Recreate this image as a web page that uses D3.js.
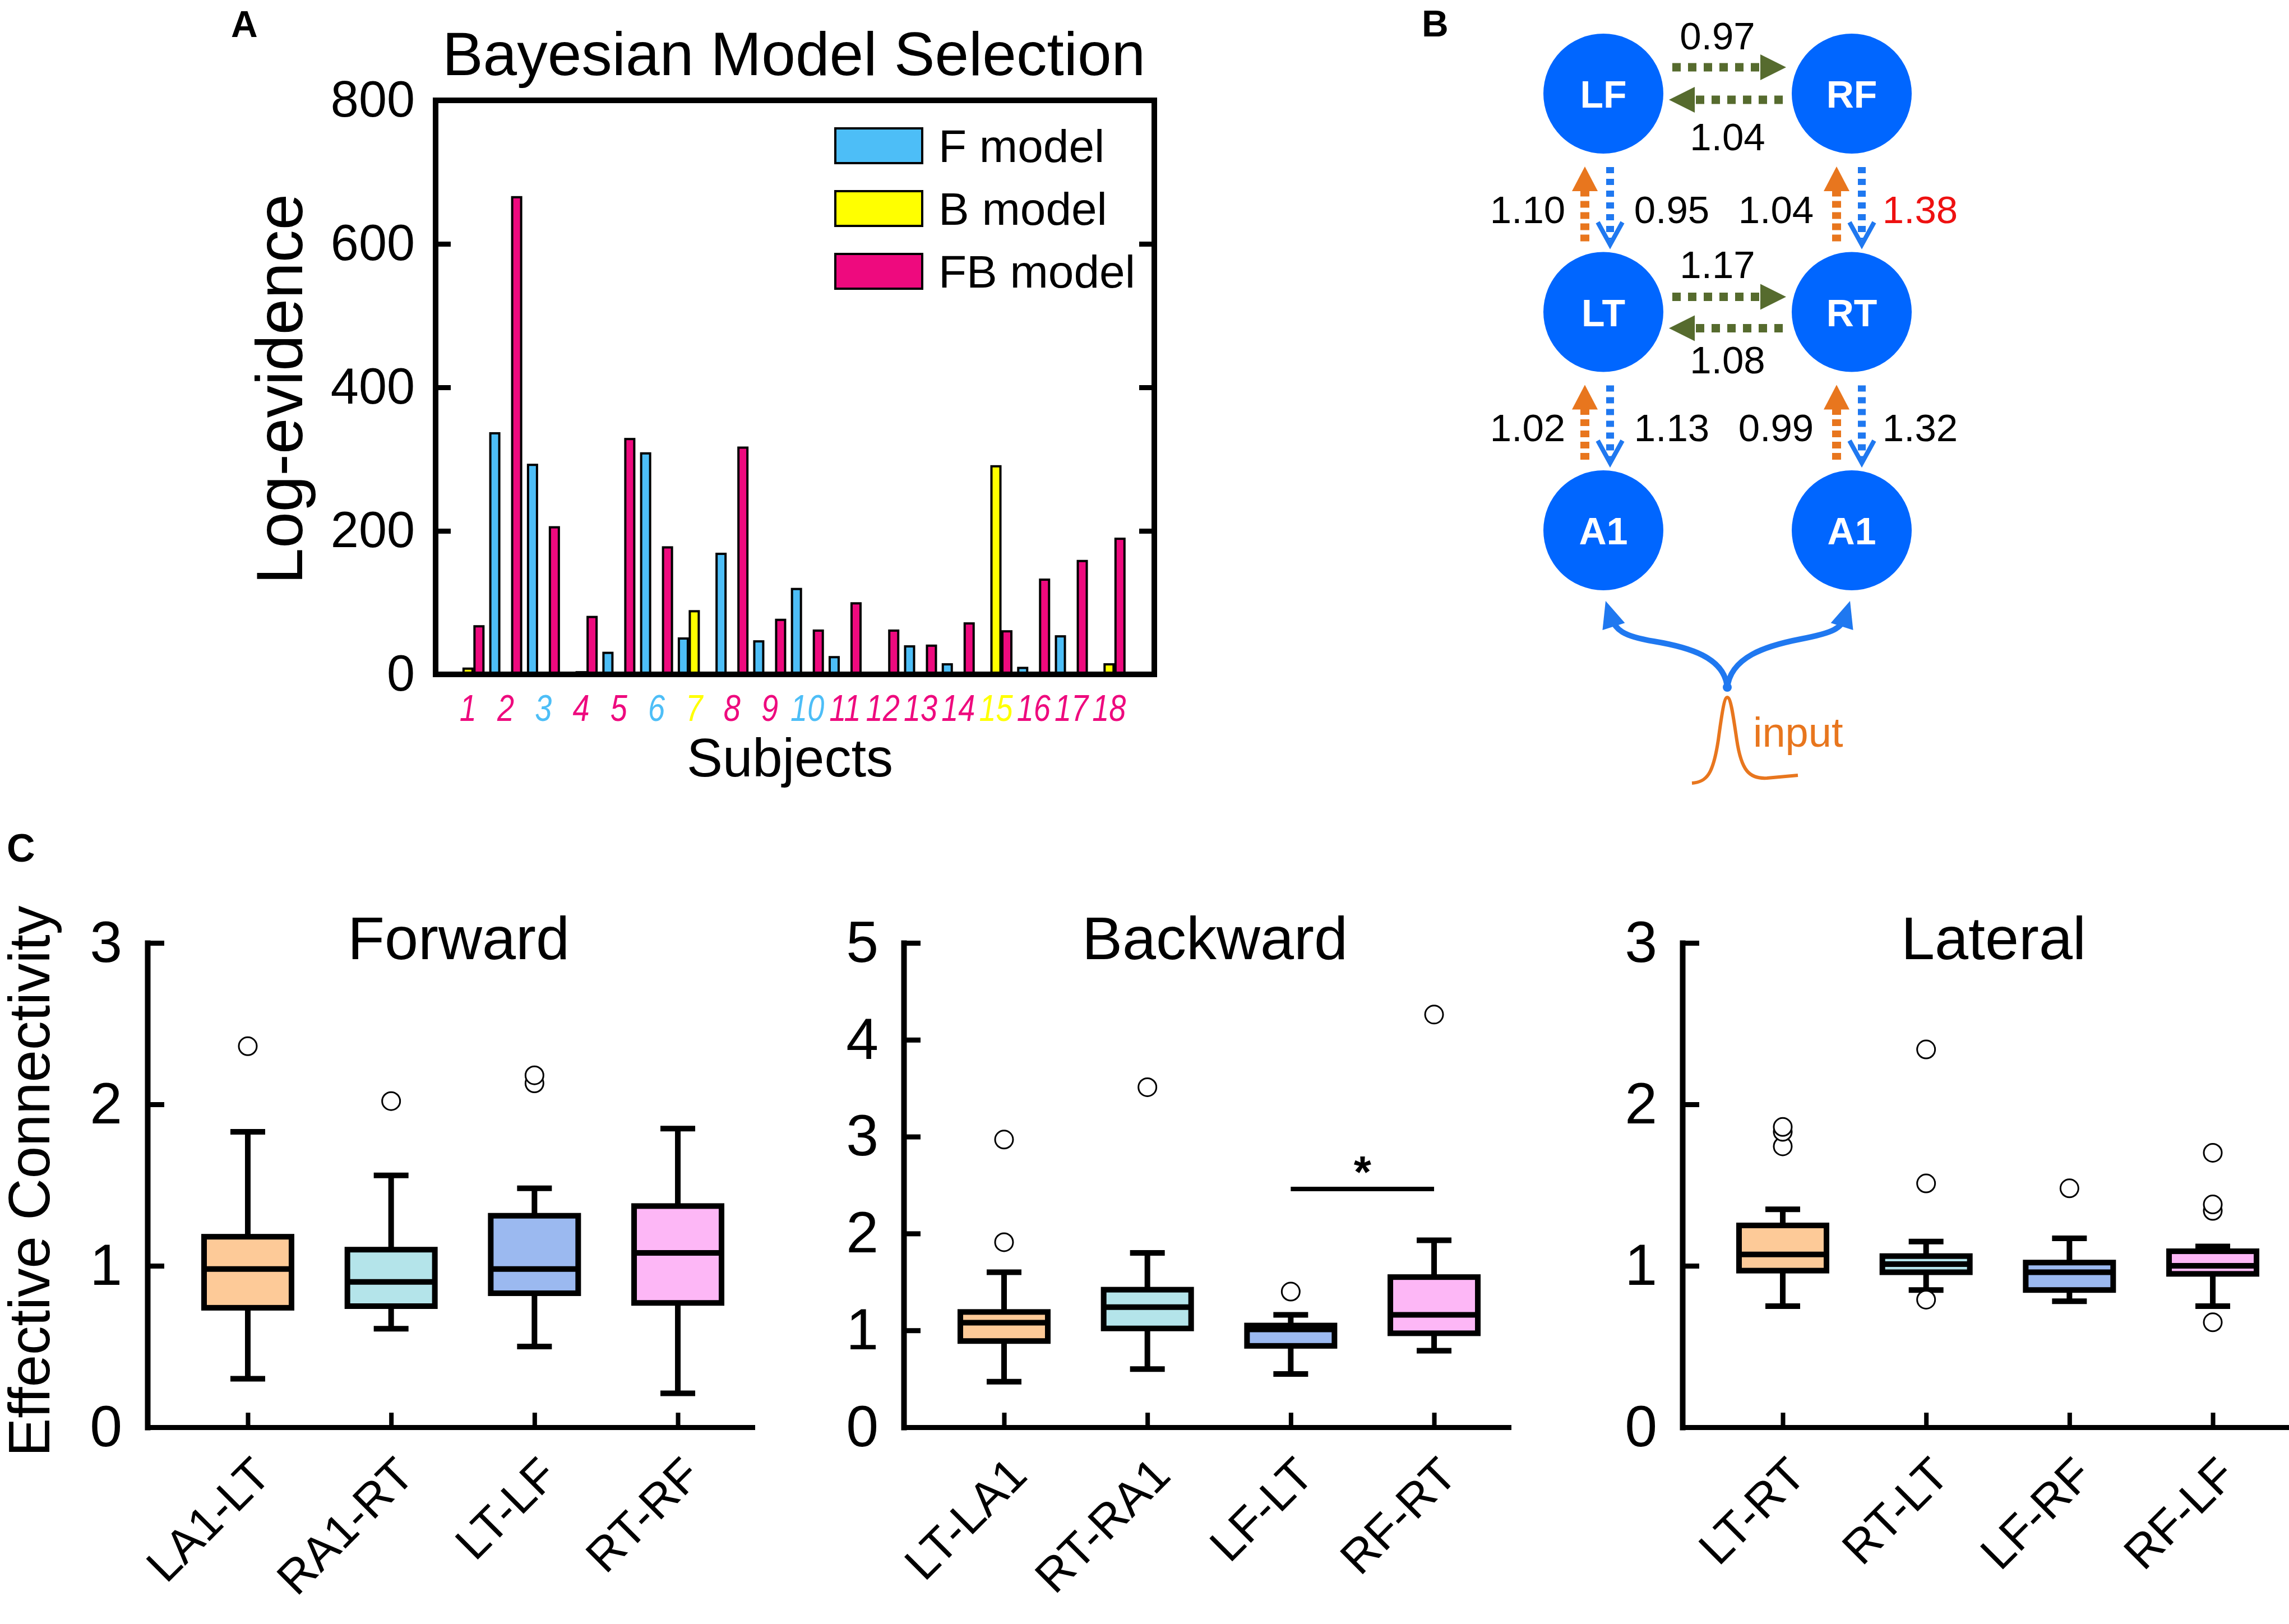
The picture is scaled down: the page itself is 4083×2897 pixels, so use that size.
<!DOCTYPE html>
<html>
<head>
<meta charset="utf-8">
<script src="https://cdn.jsdelivr.net/npm/d3@7"></script>
<style>
  body { margin: 0; background: #fff; }
  text { font-family: "Liberation Sans", Arial, sans-serif; }
</style>
</head>
<body>
<script>
'use strict';

// ---------- Panel A data: log-evidence per subject
const subjects = ['1','2','3','4','5','6','7','8','9','10','11','12','13','14','15','16','17','18'];
const fModel  = [0, 336, 292, 0, 30, 308, 50, 168, 46, 119, 24, 0, 39, 14, 0, 9, 53, 0];
const bModel  = [8, 0, 0, 3, 0, 0, 88, 0, 0, 0, 0, 0, 0, 0, 290, 0, 0, 14];
const fbModel = [67, 665, 205, 80, 328, 177, 0, 316, 76, 61, 99, 61, 40, 71, 60, 132, 158, 189];
const modelNames  = ['F model', 'B model', 'FB model'];
const modelColors = ['#4dbef7', '#ffff00', '#ee0a7e'];
const yTicksA = [0, 200, 400, 600, 800];

// ---------- Panel B data: DCM connection strengths
const nodes = [
  { name: 'LF', side: 'L', level: 'F' }, { name: 'RF', side: 'R', level: 'F' },
  { name: 'LT', side: 'L', level: 'T' }, { name: 'RT', side: 'R', level: 'T' },
  { name: 'A1', side: 'L', level: 'A' }, { name: 'A1', side: 'R', level: 'A' }
];
const lateralLevels = ['F', 'F', 'T', 'T'];
const lateralDirs   = ['LR', 'RL', 'LR', 'RL'];
const lateralValues = [0.97, 1.04, 1.17, 1.08];
const verticalSides  = ['L', 'L', 'R', 'R'];
const verticalGaps   = ['FT', 'TA', 'FT', 'TA'];
const forwardValues  = [1.10, 1.02, 1.04, 0.99];   // orange, upward
const backwardValues = [0.95, 1.13, 1.38, 1.32];   // blue, downward
const backwardSignif = [false, false, true, false];

// ---------- Panel C data: box statistics [low whisker, Q1, median, Q3, high whisker]
const forwardCats  = ['LA1-LT', 'RA1-RT', 'LT-LF', 'RT-RF'];
const forwardStats = [[0.30, 0.74, 0.98, 1.18, 1.83], [0.61, 0.75, 0.90, 1.10, 1.56],
                      [0.50, 0.83, 0.98, 1.31, 1.48], [0.21, 0.77, 1.08, 1.37, 1.85]];
const forwardOut   = [[2.36], [2.02], [2.13, 2.18], []];
const backwardCats  = ['LT-LA1', 'RT-RA1', 'LF-LT', 'RF-RT'];
const backwardStats = [[0.47, 0.89, 1.08, 1.19, 1.60], [0.60, 1.02, 1.24, 1.42, 1.80],
                       [0.55, 0.84, 1.01, 1.05, 1.16], [0.79, 0.97, 1.16, 1.55, 1.93]];
const backwardOut   = [[1.91, 2.97], [3.51], [1.40], [4.26]];
const lateralCats  = ['LT-RT', 'RT-LT', 'LF-RF', 'RF-LF'];
const lateralStats = [[0.75, 0.97, 1.07, 1.25, 1.35], [0.85, 0.96, 1.01, 1.06, 1.15],
                      [0.78, 0.85, 0.96, 1.02, 1.17], [0.75, 0.95, 1.00, 1.09, 1.12]];
const lateralOut   = [[1.74, 1.83, 1.86], [0.79, 1.51, 2.34], [1.48], [0.65, 1.34, 1.38, 1.70]];
const boxColors = ['#fdca98', '#b4e4ea', '#9bb9f0', '#fdb7f6'];
const ticks3 = [0, 1, 2, 3];
const ticks5 = [0, 1, 2, 3, 4, 5];
const sigPair = [3, 4];
const sigLevel = 2.46;

const W = 4083, H = 2897;
const svg = d3.select('body').append('svg')
  .attr('width', W).attr('height', H)
  .attr('viewBox', `0 0 ${W} ${H}`);
svg.append('rect').attr('width', W).attr('height', H).attr('fill', '#fff');

// =============== Panel A ===============
const A = { left: 777, right: 2059, top: 179, bottom: 1203 };
const xA = d3.scaleLinear().domain([0.14, 19.2]).range([A.left, A.right]);
const yA = d3.scaleLinear().domain([0, 800]).range([A.bottom, A.top]);
const gA = svg.append('g');

const series = [fModel, bModel, fbModel];
const offsets = [-19.5, 0, 19.5];
series.forEach((vals, k) => {
  gA.append('g').selectAll('rect')
    .data(vals.map((v, i) => ({ v, i })).filter(d => d.v > 0))
    .join('rect')
    .attr('x', d => xA(d.i + 1) + offsets[k] - 8)
    .attr('width', 16)
    .attr('y', d => yA(d.v))
    .attr('height', d => yA(0) - yA(d.v))
    .attr('fill', modelColors[k])
    .attr('stroke', '#000')
    .attr('stroke-width', 4);
});

gA.append('rect')
  .attr('x', A.left).attr('y', A.top)
  .attr('width', A.right - A.left).attr('height', A.bottom - A.top)
  .attr('fill', 'none').attr('stroke', '#000').attr('stroke-width', 10);

const axA = gA.append('g')
  .attr('transform', `translate(${A.left},0)`)
  .call(d3.axisLeft(yA).tickValues(yTicksA).tickSize(-27).tickSizeOuter(0).tickPadding(37));
axA.select('.domain').remove();
axA.selectAll('line').attr('stroke-width', 9);
axA.selectAll('text').attr('font-size', 90).attr('fill', '#000');

const axAR = gA.append('g')
  .attr('transform', `translate(${A.right},0)`)
  .call(d3.axisRight(yA).tickValues(yTicksA.slice(1, 4)).tickSize(-27).tickFormat(''));
axAR.select('.domain').remove();
axAR.selectAll('line').attr('stroke-width', 9);

// subject labels coloured by the winning model
gA.append('g').selectAll('text')
  .data(subjects)
  .join('text')
  .attr('transform', (d, i) => `translate(${xA(i + 1)},1286) scale(0.82,1)`)
  .attr('text-anchor', 'middle')
  .attr('font-size', 66)
  .attr('font-style', 'italic')
  .attr('fill', (d, i) => {
    const v = [fModel[i], bModel[i], fbModel[i]];
    return modelColors[v.indexOf(d3.max(v))];
  })
  .text(d => d);

gA.append('text').attr('x', 1409).attr('y', 1385)
  .attr('text-anchor', 'middle').attr('font-size', 96).text('Subjects');
gA.append('text').attr('transform', 'translate(539,694) rotate(-90)')
  .attr('text-anchor', 'middle').attr('font-size', 116).text('Log-evidence');
gA.append('text').attr('x', 1416).attr('y', 134)
  .attr('text-anchor', 'middle').attr('font-size', 109).text('Bayesian Model Selection');

const leg = gA.append('g').selectAll('g').data(modelNames).join('g')
  .attr('transform', (d, i) => `translate(1490,${229 + i * 112})`);
leg.append('rect').attr('width', 155).attr('height', 62)
  .attr('fill', (d, i) => modelColors[i]).attr('stroke', '#000').attr('stroke-width', 4);
leg.append('text').attr('x', 184).attr('y', 31 + 29)
  .attr('font-size', 82).text(d => d);

svg.append('text').attr('x', 412).attr('y', 66)
  .attr('font-size', 66).attr('font-weight', 'bold').text('A');

// =============== Panel B ===============
const gB = svg.append('g');
const colX = d3.scalePoint().domain(['L', 'R']).range([2860, 3303]);
const rowY = d3.scalePoint().domain(['F', 'T', 'A']).range([167, 946]);
const R = 107;
const nodeBlue = '#0066ff', orange = '#e8761e', arrowBlue = '#1f78f0', olive = '#566b2e';

function head(g, x, y, ux, uy, len, wid, color) {
  const nx = -uy, ny = ux;
  const bx = x - ux * len, by = y - uy * len;
  g.append('path')
    .attr('d', `M${x},${y}L${bx + nx * wid / 2},${by + ny * wid / 2}L${bx - nx * wid / 2},${by - ny * wid / 2}Z`)
    .attr('fill', color);
}
function chevron(g, x, y, ux, uy, len, wid, color) {
  const nx = -uy, ny = ux;
  const bx = x - ux * len, by = y - uy * len;
  g.append('path')
    .attr('d', `M${bx + nx * wid / 2},${by + ny * wid / 2}L${x},${y}L${bx - nx * wid / 2},${by - ny * wid / 2}`)
    .attr('fill', 'none').attr('stroke', color).attr('stroke-width', 8)
    .attr('stroke-linejoin', 'miter');
}
function dashed(g, x1, y1, x2, y2, color, w, dash) {
  g.append('line').attr('x1', x1).attr('y1', y1).attr('x2', x2).attr('y2', y2)
    .attr('stroke', color).attr('stroke-width', w).attr('stroke-dasharray', dash);
}

// lateral (olive) arrows
const latOffsets = { F: [-47, 11], T: [-27, 29] };
const latLabelY = { F: [88, 268], T: [496, 666] };
lateralValues.forEach((v, i) => {
  const lev = lateralLevels[i];
  const lx = colX('L') + R, rx = colX('R') - R;
  const upper = lateralDirs[i] === 'LR';
  const y = rowY(lev) + latOffsets[lev][upper ? 0 : 1];
  if (upper) {
    dashed(gB, lx + 16, y, rx - 52, y, olive, 15, '15,13');
    head(gB, rx - 10, y, 1, 0, 46, 46, olive);
  } else {
    dashed(gB, rx - 16, y, lx + 52, y, olive, 15, '15,13');
    head(gB, lx + 10, y, -1, 0, 46, 46, olive);
  }
  gB.append('text')
    .attr('x', (lx + rx) / 2 + (upper ? -18 : 0))
    .attr('y', latLabelY[lev][upper ? 0 : 1])
    .attr('text-anchor', 'middle').attr('font-size', 69)
    .text(v.toFixed(2));
});

// vertical arrows: orange forward (up), blue backward (down)
verticalSides.forEach((s, i) => {
  const cx = colX(s);
  const upperLev = verticalGaps[i] === 'FT' ? 'F' : 'T';
  const lowerLev = verticalGaps[i] === 'FT' ? 'T' : 'A';
  const top = rowY(upperLev) + R, bot = rowY(lowerLev) - R;
  const ox = cx + (s === 'L' ? -33 : -27), bx = cx + (s === 'L' ? 12 : 18);
  dashed(gB, ox, bot - 19, ox, top + 60, orange, 16, '12,8');
  head(gB, ox, top + 23, 0, -1, 44, 46, orange);
  dashed(gB, bx, top + 24, bx, bot - 22, arrowBlue, 14, '11,10');
  chevron(gB, bx, bot - 13, 0, 1, 40, 44, arrowBlue);
  const ly = (top + bot) / 2 + 36;
  gB.append('text').attr('x', cx - 135).attr('y', ly)
    .attr('text-anchor', 'middle').attr('font-size', 69)
    .text(forwardValues[i].toFixed(2));
  gB.append('text').attr('x', cx + 122).attr('y', ly)
    .attr('text-anchor', 'middle').attr('font-size', 69)
    .attr('fill', backwardSignif[i] ? '#ee1111' : '#000')
    .text(backwardValues[i].toFixed(2));
});

// nodes
const gn = gB.append('g').selectAll('g').data(nodes).join('g')
  .attr('transform', d => `translate(${colX(d.side)},${rowY(d.level)})`);
gn.append('circle').attr('r', R).attr('fill', nodeBlue);
gn.append('text').attr('y', 25).attr('text-anchor', 'middle')
  .attr('font-size', 68).attr('font-weight', 'bold').attr('fill', '#fff')
  .text(d => d.name);

// input fork
gB.append('path')
  .attr('d', 'M3081,1228 C3078,1172 3010,1154 2950,1144 S2884,1122 2874,1104')
  .attr('fill', 'none').attr('stroke', arrowBlue).attr('stroke-width', 10);
gB.append('path')
  .attr('d', 'M3081,1228 C3086,1172 3150,1152 3212,1140 S3282,1120 3290,1104')
  .attr('fill', 'none').attr('stroke', arrowBlue).attr('stroke-width', 10);
head(gB, 2864, 1072, -0.3, -0.95, 48, 42, arrowBlue);
head(gB, 3300, 1072, 0.3, -0.95, 48, 42, arrowBlue);
gB.append('circle').attr('cx', 3081).attr('cy', 1226).attr('r', 8).attr('fill', arrowBlue);

gB.append('path')
  .attr('d', 'M3018,1397 C3045,1395 3056,1380 3065,1320 C3072,1268 3076,1244 3081,1244 C3087,1244 3091,1272 3098,1320 C3106,1374 3120,1390 3152,1388 L3207,1383')
  .attr('fill', 'none').attr('stroke', orange).attr('stroke-width', 6);
gB.append('text').attr('x', 3127).attr('y', 1332)
  .attr('font-size', 74).attr('fill', orange).text('input');

svg.append('text').attr('x', 2536).attr('y', 65)
  .attr('font-size', 66).attr('font-weight', 'bold').text('B');

// =============== Panel C ===============
const C = { bottom: 2546, top: 1682, len: 1079 };
const panels = [
  { title: 'Forward',  left: 263,  cats: forwardCats,  stats: forwardStats,  out: forwardOut,  ticks: ticks3 },
  { title: 'Backward', left: 1612, cats: backwardCats, stats: backwardStats, out: backwardOut, ticks: ticks5 },
  { title: 'Lateral',  left: 3001, cats: lateralCats,  stats: lateralStats,  out: lateralOut,  ticks: ticks3 }
];

panels.forEach((p, pi) => {
  const g = svg.append('g');
  const x = d3.scaleLinear().domain([0.3, 4.52]).range([p.left, p.left + C.len]);
  const y = d3.scaleLinear().domain([0, d3.max(p.ticks)]).range([C.bottom, C.top]);

  const ay = g.append('g').attr('transform', `translate(${p.left},0)`)
    .call(d3.axisLeft(y).tickValues(p.ticks).tickFormat(d3.format('d'))
      .tickSize(-30).tickSizeOuter(0).tickPadding(45));
  ay.select('.domain').attr('stroke-width', 10).attr('stroke-linecap', 'square');
  ay.selectAll('line').attr('stroke-width', 9);
  ay.selectAll('text').attr('font-size', 104).attr('fill', '#000');

  const ax = g.append('g').attr('transform', `translate(0,${C.bottom})`)
    .call(d3.axisBottom(x).tickValues([1, 2, 3, 4]).tickSize(-26).tickSizeOuter(0).tickFormat(''));
  ax.select('.domain').attr('stroke-width', 9).attr('stroke-linecap', 'square');
  ax.selectAll('line').attr('stroke-width', 8);

  g.append('g').selectAll('text').data(p.cats).join('text')
    .attr('transform', (d, i) => `translate(${x(i + 1) + 45},${C.bottom + 90}) rotate(-45)`)
    .attr('text-anchor', 'end').attr('font-size', 84)
    .text(d => d);

  g.append('text').attr('x', p.left + 555).attr('y', 1711)
    .attr('text-anchor', 'middle').attr('font-size', 108).text(p.title);

  const bw = 156, cap = 62;
  const box = g.append('g').selectAll('g').data(p.stats).join('g');
  box.append('line')
    .attr('x1', (d, i) => x(i + 1)).attr('x2', (d, i) => x(i + 1))
    .attr('y1', d => y(d[0])).attr('y2', d => y(d[4]))
    .attr('stroke', '#000').attr('stroke-width', 10);
  [0, 4].forEach(k => {
    box.append('line')
      .attr('x1', (d, i) => x(i + 1) - cap / 2).attr('x2', (d, i) => x(i + 1) + cap / 2)
      .attr('y1', d => y(d[k])).attr('y2', d => y(d[k]))
      .attr('stroke', '#000').attr('stroke-width', 10);
  });
  box.append('rect')
    .attr('x', (d, i) => x(i + 1) - bw / 2).attr('width', bw)
    .attr('y', d => y(d[3])).attr('height', d => y(d[1]) - y(d[3]))
    .attr('fill', (d, i) => boxColors[i]).attr('stroke', '#000').attr('stroke-width', 10);
  box.append('line')
    .attr('x1', (d, i) => x(i + 1) - bw / 2).attr('x2', (d, i) => x(i + 1) + bw / 2)
    .attr('y1', d => y(d[2])).attr('y2', d => y(d[2]))
    .attr('stroke', '#000').attr('stroke-width', 10);

  p.out.forEach((vals, i) => {
    g.append('g').selectAll('circle').data(vals).join('circle')
      .attr('cx', x(i + 1)).attr('cy', d => y(d)).attr('r', 16)
      .attr('fill', '#fff').attr('stroke', '#000').attr('stroke-width', 3);
  });

  if (p.title === 'Backward') {
    g.append('line')
      .attr('x1', x(sigPair[0])).attr('x2', x(sigPair[1]))
      .attr('y1', y(sigLevel)).attr('y2', y(sigLevel))
      .attr('stroke', '#000').attr('stroke-width', 8);
    g.append('text')
      .attr('x', (x(sigPair[0]) + x(sigPair[1])) / 2).attr('y', y(sigLevel + 0.26) + 42)
      .attr('text-anchor', 'middle').attr('font-size', 80).attr('font-weight', 'bold')
      .text('*');
  }
});

svg.append('text').attr('transform', 'translate(88,2107) rotate(-90)')
  .attr('text-anchor', 'middle').attr('font-size', 103).text('Effective Connectivity');
svg.append('text').attr('x', 12).attr('y', 1537)
  .attr('font-size', 70).attr('font-weight', 'bold').text('C');
</script>
</body>
</html>
